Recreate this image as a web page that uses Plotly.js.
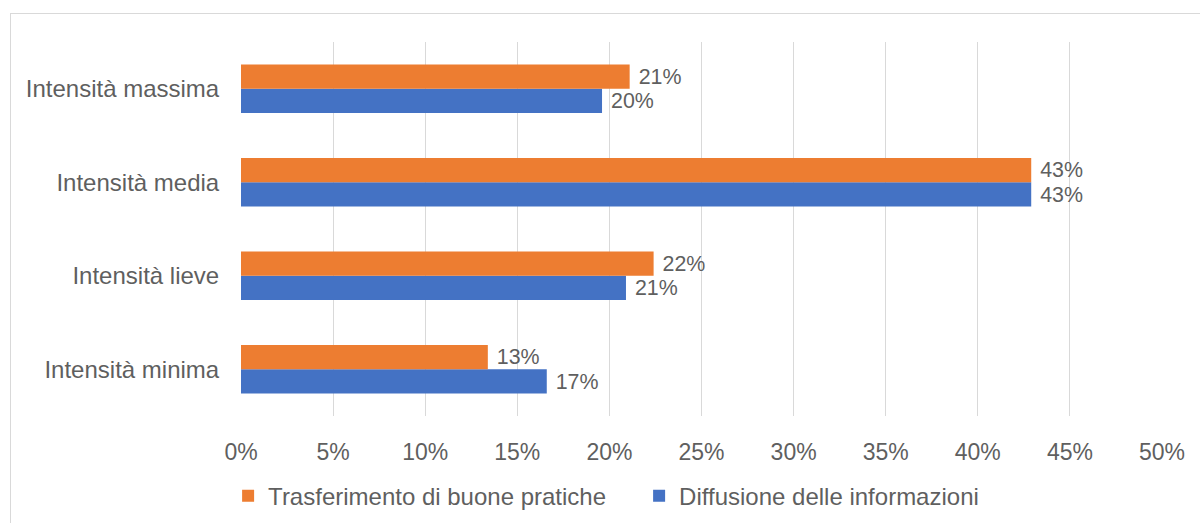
<!DOCTYPE html>
<html>
<head>
<meta charset="utf-8">
<script src="https://cdn.plot.ly/plotly-3.0.1.min.js"></script>
<style>
html,body{margin:0;padding:0;background:#fff;}
#frame{position:absolute;left:10px;top:13px;width:1190px;height:510px;border-top:1px solid #d9d9d9;border-left:1px solid #d9d9d9;}
#chart{position:absolute;left:0;top:0;width:1200px;height:523px;}
</style>
</head>
<body>
<div id="frame"></div>
<div id="chart"></div>
<script>
const categories = ["Intensità minima", "Intensità lieve", "Intensità media", "Intensità massima"];
const seriesNames = ["Diffusione delle informazioni", "Trasferimento di buone pratiche"];
const diffusione = [0.166, 0.209, 0.429, 0.196];
const trasferimento = [0.134, 0.224, 0.429, 0.211];
const tickVals = [0, 0.05, 0.10, 0.15, 0.20, 0.25, 0.30, 0.35, 0.40, 0.45, 0.50];

const fam = "Liberation Sans, Arial, sans-serif";
const textFont = {family: fam, size: 24, color: "#5f5f5f"};
const tickFont = {family: fam, size: 23, color: "#5f5f5f"};
const labelFont = {family: fam, size: 22, color: "#5f5f5f"};

const traces = [
  {
    type: "bar", orientation: "h", name: seriesNames[0],
    y: categories, x: diffusione,
    marker: {color: "#4472C4"},
    texttemplate: "\u00a0%{x:.0%}", textposition: "outside", cliponaxis: false,
    textfont: labelFont, hoverinfo: "skip"
  },
  {
    type: "bar", orientation: "h", name: seriesNames[1],
    y: categories, x: trasferimento,
    marker: {color: "#ED7D31"},
    texttemplate: "\u00a0%{x:.0%}", textposition: "outside", cliponaxis: false,
    textfont: labelFont, hoverinfo: "skip"
  }
];

const layout = {
  width: 1200, height: 523,
  paper_bgcolor: "rgba(0,0,0,0)", plot_bgcolor: "rgba(0,0,0,0)",
  margin: {l: 241, r: 38, t: 42, b: 107, autoexpand: false},
  barmode: "group", bargap: 0.48, bargroupgap: 0,
  font: textFont,
  showlegend: true,
  legend: {orientation: "h", traceorder: "reversed", x: -0.014, xanchor: "left", y: -0.214, yanchor: "middle",
           font: textFont, itemwidth: 30, entrywidth: 366, entrywidthmode: "pixels"},
  xaxis: {range: [0, 0.5], tickvals: tickVals, tickformat: ".0%", showgrid: true, gridcolor: "#d9d9d9",
          gridwidth: 1, zeroline: false, showline: false, ticks: "outside", ticklen: 15,
          tickcolor: "rgba(0,0,0,0)", tickfont: tickFont, fixedrange: true},
  yaxis: {type: "category", categoryorder: "array", categoryarray: categories, showgrid: false,
          zeroline: false, showline: false, ticks: "outside", ticklen: 16, tickcolor: "rgba(0,0,0,0)",
          tickfont: textFont, fixedrange: true, automargin: false}
};

Plotly.newPlot("chart", traces, layout, {displayModeBar: false, staticPlot: true});
</script>
</body>
</html>
